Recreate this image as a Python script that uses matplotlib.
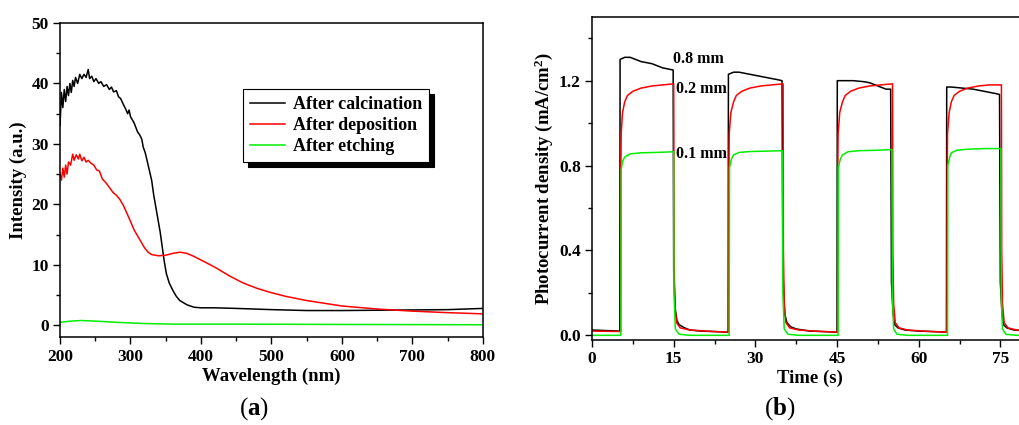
import matplotlib

matplotlib.use("Agg")
import matplotlib.pyplot as plt
from matplotlib.ticker import MultipleLocator

plt.rcParams["font.family"] = ["Liberation Serif", "DejaVu Serif"]
plt.rcParams["font.weight"] = "bold"
plt.rcParams["mathtext.fontset"] = "custom"
plt.rcParams["mathtext.rm"] = "Liberation Serif"
plt.rcParams["mathtext.bf"] = "Liberation Serif:bold"
plt.rcParams["mathtext.default"] = "regular"

# --------------------------------------------------------------------------- #
# (a) spectra                                                                  #
# --------------------------------------------------------------------------- #
wl_calc = [200, 202, 204, 206, 208, 210, 212, 214, 216, 218, 220, 222, 225, 228,
           231, 234, 237, 240, 242, 245, 248, 251, 255, 258, 262, 266, 270, 273,
           276, 280, 283, 286, 290, 293, 296, 298, 300, 305, 310, 313, 316, 318,
           321, 324, 327, 330, 333, 336, 339, 342, 345, 348, 351, 355, 360, 365,
           370, 380, 390, 400, 420, 450, 500, 550, 600, 650, 700, 750, 800]
int_calc = [33.0, 38.5, 36.0, 39.0, 37.0, 39.5, 38.0, 40.0, 38.5, 40.5, 39.5, 41.0,
            40.0, 41.5, 40.8, 41.5, 41.0, 42.3, 40.8, 41.2, 40.3, 40.8, 40.0, 40.3,
            39.5, 39.8, 39.0, 39.4, 38.6, 38.8, 37.8, 37.5, 36.5, 35.8, 35.0, 35.6,
            34.5, 33.5, 32.0, 31.5, 30.8, 29.5, 28.5, 27.0, 25.5, 24.0, 21.5, 19.5,
            17.5, 15.5, 13.0, 10.5, 8.5, 7.0, 5.8, 4.8, 4.1, 3.4, 3.0, 2.9, 2.9,
            2.8, 2.6, 2.45, 2.45, 2.5, 2.55, 2.6, 2.8]

wl_dep = [200, 202, 204, 206, 208, 210, 212, 215, 218, 220, 223, 226, 228, 231,
          234, 237, 240, 244, 248, 252, 256, 260, 265, 270, 275, 280, 285, 290,
          295, 300, 305, 310, 315, 320, 325, 330, 340, 350, 360, 370, 380, 390,
          400, 420, 440, 460, 480, 500, 520, 550, 600, 650, 700, 750, 800]
int_dep = [25.0, 24.0, 26.0, 24.5, 26.5, 25.0, 27.0, 26.5, 28.3, 27.3, 28.2, 27.5,
           28.3, 27.2, 27.8, 27.0, 27.3, 26.8, 26.5, 25.7, 25.5, 24.2, 23.6, 22.8,
           22.0, 21.5, 20.8, 19.8, 18.5, 17.2, 15.8, 14.8, 13.8, 12.8, 12.1, 11.7,
           11.5, 11.6, 11.9, 12.1, 11.9, 11.4, 10.8, 9.6, 8.2, 7.0, 6.1, 5.4, 4.8,
           4.1, 3.2, 2.7, 2.35, 2.1, 1.9]

wl_etch = [200, 215, 230, 250, 280, 320, 360, 450, 600, 800]
int_etch = [0.5, 0.7, 0.8, 0.7, 0.5, 0.3, 0.2, 0.2, 0.15, 0.1]

# --------------------------------------------------------------------------- #
# (b) photocurrent transients                                                  #
# --------------------------------------------------------------------------- #
t_08 = [0, 5.1, 5.15, 6, 7, 8, 9, 10, 11, 12, 13, 14, 14.9, 15.0, 15.3, 15.6, 16,
        17, 18, 20, 25.0,
        25.05, 26, 27, 28, 29, 30, 31, 32, 33, 34, 34.9, 35.05, 35.4, 35.8, 36.5,
        37.5, 40, 45.0,
        45.05, 46, 48, 50, 51, 52, 53, 54, 54.85, 55.0, 55.3, 55.6, 56.2, 57.5, 60,
        65.1,
        65.15, 66, 68, 70, 72, 74, 74.85, 75.0, 75.3, 75.6, 76.2, 77.5, 80]
j_08 = [0.025, 0.02, 1.30, 1.31, 1.31, 1.30, 1.29, 1.285, 1.28, 1.27, 1.26, 1.255,
        1.25, 0.30, 0.12, 0.07, 0.05, 0.035, 0.025, 0.02, 0.015,
        1.23, 1.24, 1.24, 1.235, 1.23, 1.225, 1.22, 1.215, 1.21, 1.205, 1.20, 0.30,
        0.10, 0.06, 0.04, 0.03, 0.02, 0.015,
        1.20, 1.20, 1.20, 1.195, 1.19, 1.18, 1.17, 1.16, 1.16, 0.25, 0.10, 0.05,
        0.035, 0.025, 0.02, 0.015,
        1.17, 1.17, 1.165, 1.16, 1.15, 1.14, 1.135, 0.25, 0.10, 0.05, 0.035, 0.025,
        0.02]

t_02 = [0, 5.25, 5.3, 5.35, 5.6, 6, 6.5, 7.5, 9, 11, 13, 15.0, 15.05, 15.2, 15.5,
        16.2, 18, 21, 25.1,
        25.15, 25.2, 25.5, 26, 26.5, 27.5, 29, 31, 33, 35.1, 35.15, 35.3, 35.6,
        36.3, 38, 41, 45.1,
        45.15, 45.2, 45.5, 46, 46.5, 47.5, 49, 51, 53, 55.2, 55.25, 55.4, 55.7,
        56.4, 58, 61, 65.2,
        65.25, 65.3, 65.6, 66, 66.5, 67.5, 69, 71, 73, 75.2, 75.25, 75.4, 75.7,
        76.4, 78, 80]
j_02 = [0.02, 0.018, 0.80, 0.95, 1.05, 1.10, 1.13, 1.15, 1.165, 1.175, 1.18, 1.185,
        0.40, 0.15, 0.06, 0.035, 0.025, 0.02, 0.015,
        0.80, 0.95, 1.05, 1.10, 1.13, 1.15, 1.165, 1.175, 1.18, 1.185, 0.40, 0.15,
        0.06, 0.035, 0.025, 0.02, 0.015,
        0.80, 0.95, 1.05, 1.10, 1.13, 1.15, 1.165, 1.175, 1.18, 1.185, 0.40, 0.15,
        0.06, 0.035, 0.025, 0.02, 0.015,
        0.80, 0.95, 1.05, 1.10, 1.13, 1.15, 1.165, 1.175, 1.18, 1.18, 0.40, 0.15,
        0.06, 0.035, 0.025, 0.02]

t_01 = [0, 5.3, 5.35, 5.6, 6, 7, 9, 12, 15.0, 15.05, 15.3, 16, 18, 25.2,
        25.25, 25.6, 26, 27, 29, 32, 35.0, 35.05, 35.3, 36, 38, 45.2,
        45.25, 45.6, 46, 47, 49, 52, 55.1, 55.15, 55.4, 56, 58, 65.3,
        65.35, 65.7, 66, 67, 69, 72, 75.1, 75.15, 75.4, 76, 78, 80]
j_01 = [0.0, 0.0, 0.78, 0.82, 0.84, 0.855, 0.86, 0.862, 0.865, 0.20, 0.03, 0.005,
        0.0, 0.0,
        0.79, 0.83, 0.85, 0.862, 0.866, 0.868, 0.87, 0.20, 0.03, 0.005, 0.0, 0.0,
        0.79, 0.83, 0.85, 0.865, 0.87, 0.872, 0.875, 0.20, 0.03, 0.005, 0.0, 0.0,
        0.80, 0.84, 0.86, 0.872, 0.877, 0.88, 0.88, 0.20, 0.03, 0.005, 0.0, 0.0]

labels_b = ["0.8 mm", "0.2 mm", "0.1 mm"]
label_pos_b = [(14.9, 1.30), (15.4, 1.16), (15.4, 0.855)]


def style_axes(ax):
    ax.tick_params(which="both", direction="out", width=1, labelsize=12.5,
                   pad=3)
    ax.tick_params(which="major", length=5)
    ax.tick_params(which="minor", length=3)
    for lab in ax.get_xticklabels() + ax.get_yticklabels():
        lab.set_fontweight("bold")
    for sp in ax.spines.values():
        sp.set_linewidth(1.1)


fig = plt.figure(figsize=(10.19, 4.25), dpi=100)

# ---- panel (a)
ax1 = fig.add_axes([0.0589, 0.206, 0.415, 0.740])
ax1.plot(wl_calc, int_calc, color="black", lw=1.1, label="After calcination")
ax1.plot(wl_dep, int_dep, color="red", lw=1.1, label="After deposition")
ax1.plot(wl_etch, int_etch, color="#00ee00", lw=1.1, label="After etching")
ax1.set_xlim(200, 800)
ax1.set_ylim(-2, 50)
ax1.xaxis.set_major_locator(MultipleLocator(100))
ax1.xaxis.set_minor_locator(MultipleLocator(50))
ax1.yaxis.set_major_locator(MultipleLocator(10))
ax1.yaxis.set_minor_locator(MultipleLocator(5))
ax1.set_xlabel("Wavelength (nm)", fontsize=13.5, fontweight="bold", labelpad=2)
ax1.set_ylabel("Intensity (a.u.)", fontsize=13.5, fontweight="bold", labelpad=3)
style_axes(ax1)
leg = ax1.legend(loc="upper left", bbox_to_anchor=(0.433, 0.79),
                 borderaxespad=0,
                 frameon=True, fancybox=False, edgecolor="black",
                 shadow={"color": "black", "alpha": 1, "ox": 3.5, "oy": -3.5},
                 handlelength=1.9, handletextpad=0.45, borderpad=0.4,
                 labelspacing=0.22, prop={"weight": "bold", "size": 13})
leg.get_frame().set_linewidth(0.8)
fig.text(0.249, 0.025, r"($\mathbf{a}$)", fontsize=18, ha="center",
         fontweight="normal")

# ---- panel (b)
ax2 = fig.add_axes([0.581, 0.2, 0.4274, 0.76])
ax2.plot(t_08, j_08, color="black", lw=1.1)
ax2.plot(t_02, j_02, color="red", lw=1.1)
ax2.plot(t_01, j_01, color="#00ee00", lw=1.1)
ax2.set_xlim(0, 80)
ax2.set_ylim(-0.022, 1.5)
ax2.xaxis.set_major_locator(MultipleLocator(15))
ax2.xaxis.set_minor_locator(MultipleLocator(7.5))
ax2.yaxis.set_major_locator(MultipleLocator(0.4))
ax2.yaxis.set_minor_locator(MultipleLocator(0.2))
ax2.yaxis.set_major_formatter(plt.FuncFormatter(lambda v, p: f"{v:.1f}"))
ax2.set_xlabel("Time (s)", fontsize=13.5, fontweight="bold", labelpad=2)
ax2.set_ylabel(r"Photocurrent density (mA/cm$^2$)", fontsize=13.5,
               fontweight="bold", labelpad=3)
style_axes(ax2)
for txt, (x, y) in zip(labels_b, label_pos_b):
    ax2.text(x, y, txt, fontsize=11.5, fontweight="bold", va="center", ha="left")
fig.text(0.765, 0.025, r"($\mathbf{b}$)", fontsize=18, ha="center",
         fontweight="normal")

fig.savefig("out.png", dpi=100)
